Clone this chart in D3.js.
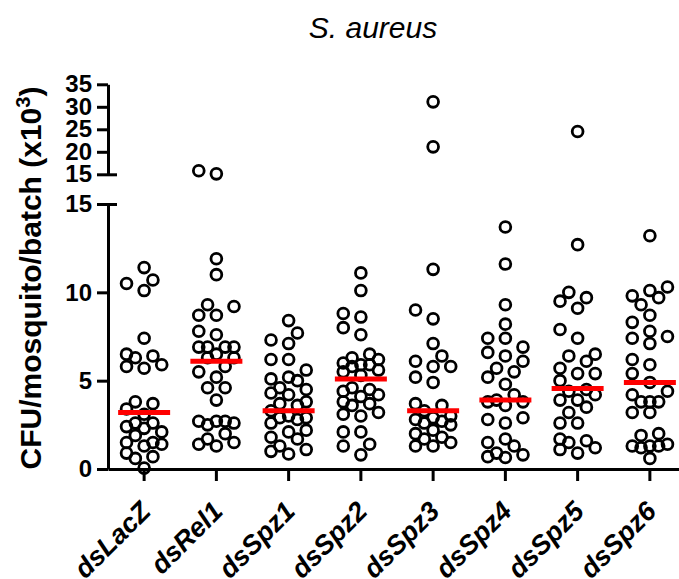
<!DOCTYPE html>
<html>
<head>
<meta charset="utf-8">
<script src="https://cdn.jsdelivr.net/npm/d3@7"></script>
<style>
body { margin: 0; background: #fff; }
text { font-family: "Liberation Sans", Arial, sans-serif; }
</style>
</head>
<body>
<svg></svg>
<script>
let groups = ['dsLacZ', 'dsRel1', 'dsSpz1', 'dsSpz2', 'dsSpz3', 'dsSpz4', 'dsSpz5', 'dsSpz6']

let dsLacZ = [11.4, 10.7, 10.5, 10.1, 7.4, 6.5, 6.4, 6.3, 5.9, 5.8, 5.7, 3.8, 3.7, 3.4, 3.1, 2.6, 2.6, 2.4, 2.3, 2.1, 1.9, 1.5, 1.5, 1.4, 1.3, 0.9, 0.7, 0.6, 0.05]
let dsRel1 = [15.8, 15.1, 11.9, 11.0, 9.3, 9.2, 8.7, 8.7, 7.8, 7.6, 6.9, 6.9, 6.9, 6.9, 6.5, 6.3, 6.3, 5.8, 5.5, 5.2, 4.6, 4.6, 3.9, 2.7, 2.7, 2.7, 2.6, 2.5, 2.0, 1.7, 1.5, 1.4, 1.3]
let dsSpz1 = [8.4, 7.7, 7.3, 7.1, 6.2, 6.2, 5.6, 5.2, 5.1, 5.0, 4.6, 4.5, 4.3, 4.2, 3.8, 3.7, 3.6, 3.3, 3.0, 2.9, 2.9, 2.8, 2.6, 2.2, 2.1, 1.8, 1.7, 1.3, 1.1, 1.0, 0.85]
let dsSpz2 = [11.1, 10.1, 8.8, 8.6, 8.0, 7.6, 6.5, 6.3, 6.2, 6.0, 5.9, 5.9, 5.8, 5.6, 5.5, 5.3, 4.6, 4.5, 4.4, 4.2, 4.1, 3.8, 3.7, 3.6, 3.2, 3.1, 3.0, 2.1, 2.1, 1.4, 1.3, 0.8]
let dsSpz3 = [31.1, 21.1, 11.3, 9.0, 8.5, 7.1, 6.4, 6.1, 5.8, 5.8, 5.2, 4.9, 3.7, 3.6, 3.3, 3.0, 2.9, 2.8, 2.7, 2.6, 2.5, 2.2, 2.0, 1.8, 1.7, 1.5, 1.3, 1.3]
let dsSpz4 = [13.7, 11.6, 9.3, 8.2, 7.4, 7.4, 6.9, 6.6, 6.4, 6.1, 5.7, 5.5, 5.2, 4.8, 4.2, 3.9, 3.8, 3.8, 3.6, 2.9, 2.8, 2.6, 1.7, 1.5, 1.3, 0.9, 0.8, 0.7, 0.65]
let dsSpz5 = [24.5, 12.7, 10.0, 9.7, 9.5, 9.1, 7.9, 7.4, 6.5, 6.4, 6.1, 5.7, 5.4, 5.4, 5.0, 4.5, 4.4, 4.2, 3.9, 3.9, 3.5, 3.2, 2.6, 2.6, 1.7, 1.6, 1.5, 1.2, 1.1, 0.9]
let dsSpz6 = [13.2, 10.3, 10.1, 9.8, 9.7, 9.3, 8.7, 8.3, 7.8, 7.5, 7.4, 7.1, 6.2, 5.9, 5.4, 4.9, 4.4, 4.2, 3.8, 3.8, 3.8, 3.2, 3.2, 2.0, 1.9, 1.4, 1.3, 1.3, 1.3, 1.2, 0.6]

let medians = [3.2, 6.1, 3.3, 5.1, 3.3, 3.9, 4.55, 4.9]

let lowTicks = [0, 5, 10, 15]
let highTicks = [15, 20, 25, 30, 35]

let title = 'S. aureus'

let allValues = [dsLacZ, dsRel1, dsSpz1, dsSpz2, dsSpz3, dsSpz4, dsSpz5, dsSpz6]

let width = 679
let height = 579

let svg = d3.select('svg')
    .attr('width', width)
    .attr('height', height)

let xScale = d3.scaleBand()
    .domain(groups)
    .range([108, 686])
    .padding(0)

let yLow = d3.scaleLinear().domain([0, 15]).range([469, 204])
let yHigh = d3.scaleLinear().domain([15, 35]).range([174.3, 84.3])

let yPos = (v) => v > 15 ? yHigh(v) : yLow(v)

// simple column-scatter layout, like prism does
let swarm = (values) => {
    let step = 8.8
    let minDist = 12.5
    let offsets = [0, -1, 1, -2, 2].map(k => k * step)
    let pts = values.map(v => ({ v: v, y: yPos(v) }))
        .sort((a, b) => b.y - a.y)
    let placed = []
    pts.forEach(p => {
        let best = null
        let bestD = -1
        for (let o of offsets) {
            let d = d3.min(placed, q => Math.hypot(q.dx - o, q.y - p.y))
            if (d === undefined) d = Infinity
            if (d >= minDist) { best = o; break }
            if (d > bestD) { bestD = d; best = o }
        }
        p.dx = best
        placed.push(p)
    })
    return placed
}

// title
svg.append('text')
    .attr('x', 373)
    .attr('y', 38)
    .attr('text-anchor', 'middle')
    .style('font-size', '30px')
    .style('font-style', 'italic')
    .text(title)

// y label
let ylab = svg.append('text')
    .attr('transform', 'translate(41,' + 278 + ') rotate(-90)')
    .attr('text-anchor', 'middle')
    .style('font-size', '30px')
    .style('font-weight', 'bold')
ylab.append('tspan').text('CFU/mosquito/batch (x10')
ylab.append('tspan').attr('dy', -11).style('font-size', '20px').text('3')
ylab.append('tspan').attr('dy', 11).text(')')

let styleAxis = (g) => {
    g.select('.domain').attr('stroke-width', 3)
    g.selectAll('.tick line').attr('stroke-width', 3)
    g.selectAll('.tick text')
        .style('font-size', '24px')
        .style('font-weight', 'bold')
        .attr('fill', '#000')
}

let lowAxis = svg.append('g')
    .attr('transform', 'translate(108,0)')
    .call(d3.axisLeft(yLow).tickValues(lowTicks).tickSize(11).tickSizeOuter(0).tickPadding(5))
    .call(styleAxis)

let highAxis = svg.append('g')
    .attr('transform', 'translate(108,0)')
    .call(d3.axisLeft(yHigh).tickValues(highTicks).tickSize(11).tickSizeOuter(0).tickPadding(5))
    .call(styleAxis)

// break marks on the 15 ticks
svg.selectAll('.tick').filter(d => d === 15)
    .select('line')
    .attr('x2', 9)
    .attr('x1', -11)

let xAxis = svg.append('g')
    .attr('transform', 'translate(0,469)')
    .call(d3.axisBottom(xScale).tickSize(12).tickSizeOuter(0).tickFormat(''))
xAxis.select('.domain').attr('stroke-width', 3)
xAxis.selectAll('.tick line').attr('stroke-width', 3)

svg.selectAll('.xlab')
    .data(groups)
    .enter()
    .append('text')
    .attr('class', 'xlab')
    .attr('transform', d => 'translate(' + (xScale(d) + xScale.bandwidth() / 2 + 8) + ',513) rotate(-45)')
    .attr('text-anchor', 'end')
    .style('font-size', '27px')
    .style('font-weight', 'bold')
    .style('font-style', 'italic')
    .text(d => d)

// dots
groups.forEach((name, i) => {
    let cx = xScale(name) + xScale.bandwidth() / 2
    let pts = swarm(allValues[i])
    svg.append('g')
        .selectAll('circle')
        .data(pts)
        .enter()
        .append('circle')
        .attr('cx', p => cx + p.dx)
        .attr('cy', p => p.y)
        .attr('r', 5.4)
        .attr('fill', 'none')
        .attr('stroke', '#000')
        .attr('stroke-width', 2.8)
})

// median lines
svg.selectAll('.median')
    .data(groups)
    .enter()
    .append('line')
    .attr('class', 'median')
    .attr('x1', d => xScale(d) + xScale.bandwidth() / 2 - 26)
    .attr('x2', d => xScale(d) + xScale.bandwidth() / 2 + 26)
    .attr('y1', (d, i) => yLow(medians[i]))
    .attr('y2', (d, i) => yLow(medians[i]))
    .attr('stroke', '#ff0000')
    .attr('stroke-width', 5)
</script>
</body>
</html>
